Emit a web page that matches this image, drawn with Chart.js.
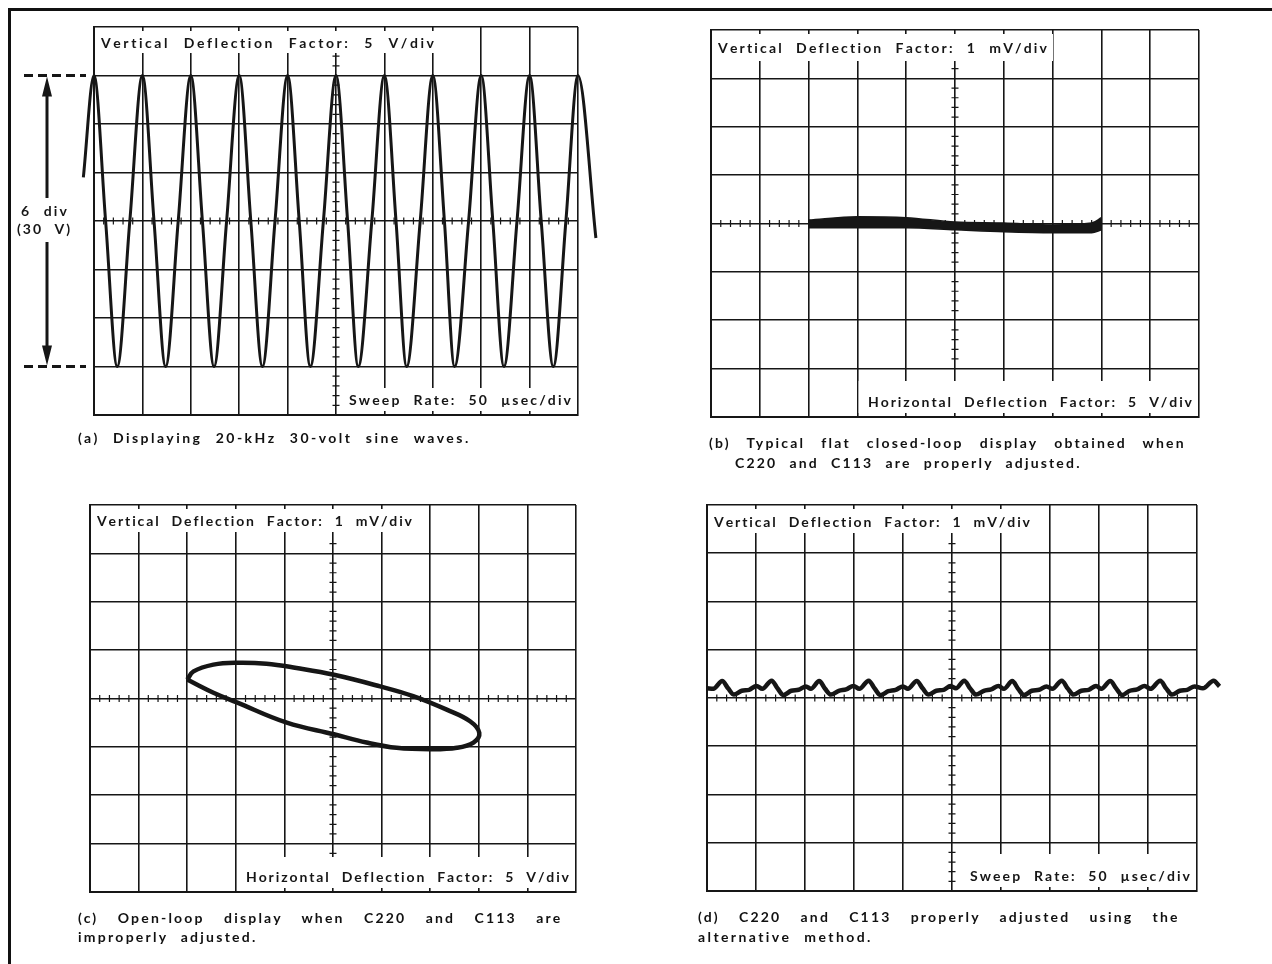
<!DOCTYPE html>
<html>
<head>
<meta charset="utf-8">
<title>Oscilloscope displays</title>
<script src="https://cdn.jsdelivr.net/npm/chart.js@4.4.1/dist/chart.umd.min.js"></script>
<style>
  html, body { margin: 0; padding: 0; background: #fff; }
  body { width: 1272px; height: 964px; position: relative; overflow: hidden; font: bold 14px Lato, sans-serif; color: #111; }
  .frame { position: absolute; left: 8px; top: 8px; width: 1280px; height: 980px; border-top: 3px solid #111; border-left: 3px solid #111; }
  .panel { position: absolute; }
  .cap { position: absolute; white-space: nowrap; line-height: 16px; }
</style>
</head>
<body>
<div class="frame"></div>
<div class="panel" style="left:0;top:0;width:620px;height:432px"><canvas id="scopeA"></canvas></div>
<div class="panel" style="left:640px;top:0;width:632px;height:432px"><canvas id="scopeB"></canvas></div>
<div class="panel" style="left:0;top:470px;width:620px;height:440px"><canvas id="scopeC"></canvas></div>
<div class="panel" style="left:640px;top:470px;width:632px;height:440px"><canvas id="scopeD"></canvas></div>

<div class="cap" data-w="393" style="left:78px;top:430px">(a) Displaying 20-kHz 30-volt sine waves.</div>
<div class="cap" data-w="478" data-j="1" style="left:709px;top:435px">(b) Typical flat closed-loop display obtained when</div>
<div class="cap" data-w="347" style="left:735px;top:455px">C220 and C113 are properly adjusted.</div>
<div class="cap" data-w="485" data-j="1" style="left:78px;top:910px">(c) Open-loop display when C220 and C113 are</div>
<div class="cap" data-w="180" style="left:78px;top:929px">improperly adjusted.</div>
<div class="cap" data-w="482" data-j="1" style="left:698px;top:909px">(d) C220 and C113 properly adjusted using the</div>
<div class="cap" data-w="175" style="left:698px;top:929px">alternative method.</div>

<script>
// (a) 20 kHz sine, in divisions (5 V/div)
const sineX = [-0.22, 0, 0.24, 0.48, 0.74, 1, 1.24, 1.48, 1.74, 2, 2.24, 2.48, 2.74, 3, 3.24, 3.48, 3.74,
  4, 4.24, 4.47, 4.74, 5, 5.24, 5.46, 5.74, 6, 6.24, 6.46, 6.74, 7, 7.24, 7.45, 7.74, 8, 8.24, 8.47, 8.74,
  9, 9.24, 9.49, 9.75, 10, 10.37];
const sineY = [0.9, 3, 0, -3, 0, 3, 0, -3, 0, 3, 0, -3, 0, 3, 0, -3, 0, 3, 0, -3, 0, 3, 0, -3, 0,
  3, 0, -3, 0, 3, 0, -3, 0, 3, 0, -3, 0, 3, 0, -3, 0, 3, -0.35];

// (b) flat closed-loop trace: upper and lower edge of the thick band
const bandX = [2, 3, 4, 5, 6, 7, 7.8, 8];
const bandTop = [0.07, 0.14, 0.12, 0.03, 0.01, -0.03, 0.01, 0.12];
const bandBottom = [-0.09, -0.09, -0.09, -0.13, -0.17, -0.19, -0.19, -0.13];

// (c) open loop
const loopX = [2.0, 2.13, 2.54, 3.02, 3.63, 4.25, 5.02, 5.97, 6.65, 7.34, 7.82, 8.01, 7.89, 7.55, 7.0,
  6.31, 5.69, 5.02, 4.05, 3.02, 2.54, 2.06, 2.0];
const loopY = [0.39, 0.56, 0.70, 0.74, 0.72, 0.63, 0.49, 0.25, 0.05, -0.23, -0.47, -0.71, -0.91, -1.02, -1.05,
  -1.02, -0.91, -0.74, -0.50, -0.08, 0.12, 0.36, 0.39];

// (d) alternative method, small ripple near the centre line
const rippleX = [0, 0.13, 0.31, 0.43, 0.55, 0.71, 0.86, 1.01, 1.13,
  1.32, 1.44, 1.56, 1.72, 1.87, 2.02, 2.12,
  2.29, 2.41, 2.53, 2.69, 2.84, 2.99, 3.11,
  3.30, 3.42, 3.54, 3.70, 3.85, 4.0, 4.1,
  4.28, 4.40, 4.52, 4.68, 4.83, 4.97, 5.08,
  5.25, 5.37, 5.49, 5.65, 5.80, 5.95, 6.06,
  6.23, 6.35, 6.47, 6.63, 6.78, 6.93, 7.05,
  7.24, 7.36, 7.48, 7.64, 7.79, 7.94, 8.05,
  8.23, 8.35, 8.47, 8.63, 8.78, 8.93, 9.05,
  9.25, 9.37, 9.49, 9.65, 9.80, 9.95, 10.12,
  10.34, 10.46];
const rippleY = [0.2, 0.19, 0.35, 0.2, 0.07, 0.15, 0.17, 0.25, 0.19,
  0.36, 0.2, 0.06, 0.15, 0.17, 0.24, 0.19,
  0.35, 0.19, 0.07, 0.15, 0.18, 0.25, 0.19,
  0.36, 0.2, 0.06, 0.14, 0.17, 0.24, 0.19,
  0.35, 0.2, 0.07, 0.15, 0.17, 0.25, 0.2,
  0.36, 0.2, 0.07, 0.15, 0.18, 0.25, 0.19,
  0.35, 0.19, 0.06, 0.15, 0.17, 0.24, 0.19,
  0.36, 0.2, 0.07, 0.15, 0.17, 0.25, 0.19,
  0.35, 0.2, 0.06, 0.15, 0.18, 0.25, 0.19,
  0.36, 0.2, 0.07, 0.15, 0.17, 0.24, 0.2,
  0.36, 0.24];

const labelsA = ["Vertical Deflection Factor: 5 V/div", "Sweep Rate: 50 \u00b5sec/div"];
const labelsB = ["Vertical Deflection Factor: 1 mV/div", "Horizontal Deflection Factor: 5 V/div"];
const labelsC = ["Vertical Deflection Factor: 1 mV/div", "Horizontal Deflection Factor: 5 V/div"];
const labelsD = ["Vertical Deflection Factor: 1 mV/div", "Sweep Rate: 50 \u00b5sec/div"];

const INK = "#161616";
const FONT = "bold 14px Lato";
const WORD = 3;     // word gap = WORD x letter gap
const JUST_LS = 2.2; // letter gap on justified caption lines

function pts(xs, ys) {
    return xs.map((x, i) => ({ x: x, y: ys[i] }));
}

// draw text spread to a given width, letter gaps g and word gaps (1 + WORD) g
function drawSpaced(ctx, text, x, y, width) {
    const chars = [...text];
    const ws = chars.map(c => ctx.measureText(c).width);
    const natural = ws.reduce((a, b) => a + b, 0);
    const spaces = chars.filter(c => c === " ").length;
    const g = Math.max(0, (width - natural) / (chars.length - 1 + WORD * spaces));
    let cx = x;
    chars.forEach((c, i) => {
        if (c !== " ") ctx.fillText(c, cx, y);
        cx += ws[i] + g + (c === " " ? WORD * g : 0);
    });
}

function scopePlugin(labels, widths, bottomFrom, topH, botH, extra) {
    return {
        id: "scope",
        beforeDatasetsDraw(chart) {
            const { ctx, chartArea: a } = chart;
            const x = chart.scales.x, y = chart.scales.y;
            ctx.save();
            ctx.font = FONT;
            ctx.textBaseline = "middle";

            // label boxes hide the graticule behind the text
            const tb = { l: a.left + 1.5, r: a.left + widths[0] + 13, t: a.top + 4, b: a.top + topH };
            const bx = x.getPixelForValue(bottomFrom);
            const bb = { l: bx + 1.2, r: a.right - 1.5, t: a.bottom - botH, b: a.bottom - 4 };
            ctx.fillStyle = "#fff";
            ctx.fillRect(tb.l, tb.t, tb.r - tb.l, tb.b - tb.t);
            ctx.fillRect(bb.l, bb.t, bb.r - bb.l, bb.b - bb.t);

            // minor marks on the centre lines
            const cx = x.getPixelForValue(5), cy = y.getPixelForValue(0);
            ctx.strokeStyle = INK;
            ctx.lineWidth = 1.2;
            ctx.beginPath();
            for (let i = 1; i < 50; i++) {
                if (i % 5 === 0) continue;
                const px = x.getPixelForValue(i / 5);
                ctx.moveTo(px, cy - 3.5);
                ctx.lineTo(px, cy + 3.5);
            }
            ctx.moveTo(cx, tb.t);
            for (let i = -19; i < 20; i++) {
                if (i % 5 === 0) continue;
                const py = y.getPixelForValue(i / 5);
                if (py > tb.t - 3 && py < tb.b + 3 && cx < tb.r) continue;
                if (py > bb.t - 3 && py < bb.b + 3 && cx > bb.l + 2) continue;
                ctx.moveTo(cx - 3.5, py);
                ctx.lineTo(cx + 3.5, py);
            }
            ctx.stroke();

            ctx.fillStyle = INK;
            drawSpaced(ctx, labels[0], a.left + 7, a.top + topH / 2 + 3, widths[0]);
            drawSpaced(ctx, labels[1], a.right - 7 - widths[1], a.bottom - 14.5, widths[1]);
            ctx.restore();
        },
        afterDraw(chart) {
            if (extra) extra(chart);
        }
    };
}

// the "6 div (30 V)" marker at the left of panel (a)
function amplitudeMarker(chart) {
    const ctx = chart.ctx, y = chart.scales.y;
    const yTop = y.getPixelForValue(3), yBot = y.getPixelForValue(-3);
    const ax = 47;
    ctx.save();
    ctx.strokeStyle = INK;
    ctx.fillStyle = INK;
    ctx.lineWidth = 3;
    ctx.setLineDash([9, 5]);
    [yTop, yBot].forEach(py => {
        ctx.beginPath();
        ctx.moveTo(24, py);
        ctx.lineTo(86, py);
        ctx.stroke();
    });
    ctx.setLineDash([]);
    ctx.beginPath();
    ctx.moveTo(ax, yTop + 14);
    ctx.lineTo(ax, 198);
    ctx.moveTo(ax, 242);
    ctx.lineTo(ax, yBot - 14);
    ctx.stroke();
    ctx.beginPath();
    ctx.moveTo(ax, yTop + 1);
    ctx.lineTo(ax - 5, yTop + 21);
    ctx.lineTo(ax + 5, yTop + 21);
    ctx.closePath();
    ctx.moveTo(ax, yBot - 1);
    ctx.lineTo(ax - 5, yBot - 21);
    ctx.lineTo(ax + 5, yBot - 21);
    ctx.closePath();
    ctx.fill();
    ctx.font = FONT;
    ctx.textBaseline = "middle";
    drawSpaced(ctx, "6 div", 21, 211, 46);
    drawSpaced(ctx, "(30 V)", 17, 229, 53);
    ctx.restore();
}

function axis(lo, hi, isX) {
    return {
        type: "linear",
        afterDataLimits(s) { s.min = lo; s.max = hi; },
        ticks: { display: false, stepSize: 1 },
        grid: { color: INK, lineWidth: 1.6, drawTicks: false },
        border: { color: INK, width: 2 },
        afterFit(s) { if (isX) s.height = 0; else s.width = 0; }
    };
}

function makeScope(id, pad, datasets, plugin) {
    return new Chart(document.getElementById(id), {
        type: "line",
        data: { datasets: datasets },
        options: {
            animation: false,
            responsive: true,
            maintainAspectRatio: false,
            layout: { padding: pad, autoPadding: false },
            plugins: { legend: { display: false }, tooltip: { enabled: false } },
            elements: { point: { radius: 0 } },
            scales: { x: axis(0, 10, true), y: axis(-4, 4, false) }
        },
        plugins: [plugin]
    });
}

function trace(data, width, extra) {
    return Object.assign({
        data: data,
        borderColor: INK,
        backgroundColor: INK,
        borderWidth: width,
        pointRadius: 0,
        fill: false,
        clip: false
    }, extra || {});
}

makeScope("scopeA", { left: 94, top: 27, right: 42, bottom: 17 },
    [trace(pts(sineX, sineY), 3, { cubicInterpolationMode: "monotone" })],
    scopePlugin(labelsA, [333, 222], 5, 26, 27, amplitudeMarker));

makeScope("scopeB", { left: 71, top: 30, right: 73, bottom: 15 },
    [trace(pts(bandX, bandTop), 1.5, { cubicInterpolationMode: "monotone", fill: "+1" }),
     trace(pts(bandX, bandBottom), 1.5, { cubicInterpolationMode: "monotone" })],
    scopePlugin(labelsB, [329, 324], 3, 31, 36));

makeScope("scopeC", { left: 90, top: 35, right: 44, bottom: 18 },
    [trace(pts(loopX, loopY), 4.5, { tension: 0.4 })],
    scopePlugin(labelsC, [315, 323], 3, 27, 35));

makeScope("scopeD", { left: 67, top: 35, right: 75, bottom: 19 },
    [trace(pts(rippleX, rippleY), 4.5, { cubicInterpolationMode: "monotone" })],
    scopePlugin(labelsD, [316, 220], 5, 28, 37));

// captions spread to the measured line widths
const meter = document.createElement("canvas").getContext("2d");
meter.font = FONT;
document.querySelectorAll(".cap").forEach(el => {
    const text = el.textContent;
    const target = +el.dataset.w;
    const natural = meter.measureText(text).width;
    const n = text.length;
    const spaces = text.split(" ").length - 1;
    let g, ws;
    if (el.dataset.j) {
        g = JUST_LS;
        ws = Math.max(0, (target - natural - g * n) / spaces);
    } else {
        g = Math.max(0, (target - natural) / (n + WORD * spaces));
        ws = WORD * g;
    }
    el.style.letterSpacing = g + "px";
    el.style.wordSpacing = ws + "px";
});
</script>
</body>
</html>
